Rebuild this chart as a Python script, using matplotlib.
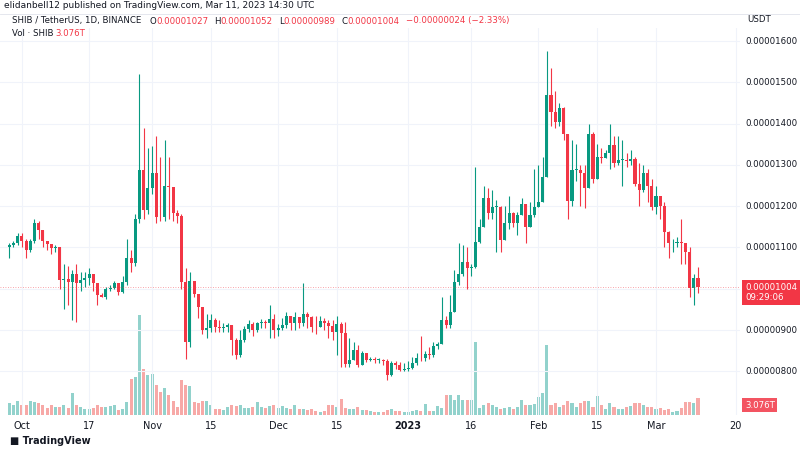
import numpy as np
import pandas as pd
from matplotlib import pyplot as plt
import matplotlib.dates as mdates

# prices in units of 1e-8 USDT
first_open = 1100
closes = [1107, 1110, 1128, 1116, 1094, 1116, 1160, 1142, 1116, 1108,
          1098, 1100, 1021, 1023, 1017, 1035, 1015, 1021, 1025, 1035,
          1013, 985, 981, 999, 1001, 1013, 993, 1017, 1074, 1062,
          1168, 1288, 1191, 1243, 1281, 1175, 1173, 1249, 1247, 1183,
          1176, 1017, 872, 1020, 987, 957, 900, 906, 925, 908,
          906, 908, 912, 876, 840, 876, 902, 914, 900, 916,
          920, 916,
          928, 900, 904, 912, 934, 916, 932, 916, 939, 931,
          908, 907, 923, 917, 910, 896, 914, 892, 817, 828,
          852, 816, 844, 828, 829, 828, 828, 824, 791, 820,
          815,
          803, 806, 809, 820, 833, 832, 842, 840, 861, 866,
          924, 912, 945, 1017, 1037, 1064, 1051, 1052, 1114, 1150,
          1221, 1183, 1199, 1199, 1118, 1160, 1183, 1160, 1179, 1205,
          1150, 1179, 1199, 1211, 1271, 1469, 1429, 1405, 1437, 1375,
          1213, 1288, 1288, 1280, 1245, 1375, 1267, 1320, 1316, 1330,
          1348, 1304, 1312, 1312, 1310, 1315, 1253, 1239, 1281, 1249, 1197, 1225,
          1201, 1138, 1110, 1110, 1113, 1112, 1090, 1003, 1027, 1004]
highs = [1112, 1115, 1135, 1135, 1120, 1120, 1170, 1165, 1130, 1115,
         1105, 1105, 1100, 1060, 1055, 1045, 1060, 1040, 1040, 1050,
         1035, 1005, 990, 1005, 1010, 1020, 1015, 1030, 1120, 1095,
         1180, 1520, 1390, 1340, 1345, 1370, 1320, 1360, 1320, 1240,
         1190, 1180, 1050, 1040, 1020, 980, 950, 940, 940, 930,
         925, 918, 918, 910, 880, 900, 910, 925, 920, 920,
         928, 925,
         960, 940, 915, 930, 945, 935, 945, 930, 1015, 945,
         935, 935, 935, 930, 925, 925, 935, 920, 920, 880,
         870, 865, 850, 845, 835, 835, 832, 830, 830, 825,
         825,
         822, 820, 825, 835, 845, 885, 850, 860, 870, 870,
         980, 935, 985, 1045, 1110, 1105, 1100, 1060, 1295, 1170,
         1250, 1245, 1240, 1215, 1200, 1200, 1225, 1185, 1185, 1220,
         1200, 1210, 1290, 1300, 1320, 1575, 1535, 1480, 1450, 1440,
         1375, 1360, 1350, 1300, 1300, 1400, 1380, 1350, 1340, 1335,
         1400, 1370, 1370, 1360, 1330, 1335, 1320, 1305, 1300, 1290, 1265, 1250,
         1220, 1210, 1140, 1120, 1125, 1170, 1110, 1100, 1035, 1052]
lows = [1075, 1100, 1105, 1100, 1075, 1090, 1110, 1120, 1100, 1095,
        1085, 1090, 1000, 950, 960, 924, 920, 995, 1005, 1010,
        995, 960, 985, 975, 995, 1000, 985, 990, 1010, 1040,
        1055, 1160, 1170, 1180, 1230, 1160, 1165, 1165, 1170, 1165,
        1160, 1000, 830, 860, 980, 930, 890, 880, 895, 895,
        895, 895, 895, 840, 830, 835, 870, 895, 885, 895,
        905, 905,
        880, 880, 885, 900, 905, 900, 900, 905, 910, 905,
        895, 890, 910, 900, 880, 875, 840, 810, 810, 810,
        830, 810, 830, 822, 824, 820, 820, 815, 780, 790,
        805,
        800, 800, 800, 805, 815, 825, 825, 830, 835, 855,
        905, 905, 905, 945, 1010, 1030, 1000, 1030, 1050, 1110,
        1160, 1170, 1170, 1090, 1090, 1150, 1145, 1150, 1130, 1180,
        1110, 1150, 1175, 1200, 1210, 1270, 1395, 1390, 1395, 1360,
        1170, 1200, 1260, 1200, 1195, 1260, 1255, 1300, 1305, 1320,
        1290, 1295, 1300, 1250, 1295, 1300, 1250, 1200, 1235, 1210, 1190, 1180,
        1170, 1100, 1075, 1090, 1100, 1060, 1060, 980, 960, 989]
# volume bar heights (1 unit = 3.076T / 17)
volumes_px = [12, 10, 14, 10, 10, 14, 13, 12, 10, 7,
              10, 8, 8, 10, 7, 22, 10, 8, 6, 6,
              7, 10, 8, 8, 9, 10, 5, 6, 13, 36,
              38, 100, 46, 40, 41, 30, 23, 27, 20, 14,
              8, 35, 30, 29, 13, 12, 14, 14, 10, 6,
              6, 5, 8, 10, 9, 10, 7, 7, 8, 13,
              8, 7,
              9, 10, 7, 9, 7, 6, 10, 6, 6, 5,
              6, 4, 3, 4, 10, 10, 8, 16, 7, 6,
              6, 8, 5, 5, 4, 3, 3, 3, 5, 6,
              4,
              4, 3, 3, 4, 5, 4, 11, 4, 4, 9,
              7, 20, 20, 15, 20, 15, 15, 15, 73, 7,
              10, 12, 10, 8, 6, 7, 8, 6, 8, 15,
              10, 10, 11, 18, 22, 70, 10, 12, 8, 10,
              14, 12, 8, 12, 14, 14, 8, 19, 10, 6,
              12, 8, 6, 6, 8, 9, 12, 12, 10, 8, 8, 6,
              7, 5, 6, 3, 4, 7, 13, 13, 12, 17]
volumes = [v * 3.076 / 17 for v in volumes_px]

dates = pd.date_range(end='2023-03-11', periods=len(closes), freq='D')
opens = [first_open] + closes[:-1]

UP, DOWN = '#089981', '#f23645'
UPV, DOWNV = '#92d2cc', '#f7a9a7'
FS = 6.2

fig = plt.figure(figsize=(8, 4.5), dpi=100)
ax = fig.add_axes([0, (450 - 415) / 450, 740 / 800, 387 / 450])
vax = ax.twinx()
vax.set_zorder(0)
ax.set_zorder(1)
ax.patch.set_visible(False)

x = mdates.date2num(dates)
for xi, o, h, l, c, v in zip(x, opens, highs, lows, closes, volumes):
    col = UP if c >= o else DOWN
    ax.vlines(xi, min(l, o, c), max(h, o, c), color=col, lw=0.8)
    ax.bar(xi, max(abs(c - o), 1.5), bottom=min(o, c), width=0.72, color=col)
    vax.bar(xi, v, width=0.72, color=UPV if c >= o else DOWNV)

x0 = mdates.date2num(pd.Timestamp('2022-10-01'))
ax.set_xlim(x0 - 5.2, x0 + 171)
ax.set_ylim(694.4, 1631.5)
vax.set_ylim(0, 70)
vax.set_yticks([])


def fig_y(price):
    return (450 - (41 + (1600 - price) * 0.413)) / 450


yt = list(range(800, 1700, 100))
ax.set_yticks(yt)
ax.tick_params(axis='y', length=0, labelleft=False)
for y in yt:
    ax.axhline(y, color='#f0f3fa', lw=0.8, zorder=0)
    fig.text(745 / 800, fig_y(y), '%.8f' % (y * 1e-8), fontsize=FS, color='#131722', va='center')

tick_dates = ['2022-10-01', '2022-10-17', '2022-11-01', '2022-11-15', '2022-12-01',
              '2022-12-15', '2023-01-01', '2023-01-16', '2023-02-01', '2023-02-15',
              '2023-03-01', '2023-03-20']
tick_labels = ['Oct', '17', 'Nov', '15', 'Dec', '15', '2023', '16', 'Feb', '15', 'Mar', '20']
tx = mdates.date2num(pd.to_datetime(tick_dates))
ax.set_xticks(tx)
ax.set_xticklabels(tick_labels, fontsize=7, color='#131722')
ax.get_xticklabels()[6].set_fontweight('bold')
ax.tick_params(axis='x', length=0, pad=4)
for t in tx:
    ax.axvline(t, color='#f0f3fa', lw=0.8, zorder=0)
for s in list(ax.spines.values()) + list(vax.spines.values()):
    s.set_visible(False)

last = closes[-1]
ax.axhline(last, color=DOWN, lw=0.6, ls=(0, (1, 2)), alpha=0.6)
fig.text(745 / 800, fig_y(last) - 0.012, '0.00001004\n09:29:06', fontsize=FS, color='white',
         va='center', linespacing=1.2,
         bbox=dict(boxstyle='square,pad=0.3', fc=DOWN, ec='none'))
fig.text(745 / 800, (450 - 405) / 450, '3.076T', fontsize=FS, color='white', va='center',
         bbox=dict(boxstyle='square,pad=0.3', fc=DOWN, ec='none', alpha=0.85))

fig.text(747 / 800, (450 - 20) / 450, 'USDT', fontsize=FS, color='#131722', va='center')
fig.text(4 / 800, 1 - 6 / 450, 'elidanbell12 published on TradingView.com, Mar 11, 2023 14:30 UTC',
         fontsize=6.5, color='#131722', va='center')
fig.add_artist(plt.Line2D([0, 1], [1 - 14 / 450] * 2, color='#e0e3eb', lw=0.6))

# header line, pieces laid out one after another
renderer = fig.canvas.get_renderer()
pieces = [('SHIB / TetherUS, 1D, BINANCE', '#131722', 8), ('O', '#131722', 0),
          ('0.00001027', DOWN, 6), ('H', '#131722', 0), ('0.00001052', DOWN, 6),
          ('L', '#131722', 0), ('0.00000989', DOWN, 6), ('C', '#131722', 0),
          ('0.00001004', DOWN, 6), ('\u22120.00000024 (\u22122.33%)', DOWN, 0)]
px = 12
for txt, col, gap in pieces:
    t = fig.text(px / 800, 1 - 21 / 450, txt, fontsize=FS, color=col, va='center')
    px += t.get_window_extent(renderer).width + gap
fig.text(12 / 800, 1 - 34 / 450, 'Vol \u00b7 SHIB', fontsize=FS, color='#131722', va='center')
fig.text(55 / 800, 1 - 34 / 450, '3.076T', fontsize=FS, color=DOWN, va='center')
fig.text(10 / 800, 1 - 441 / 450, '\u25a0 TradingView', fontsize=7, color='#131722',
         va='center', fontweight='bold')

fig.savefig('out.png', dpi=100)
